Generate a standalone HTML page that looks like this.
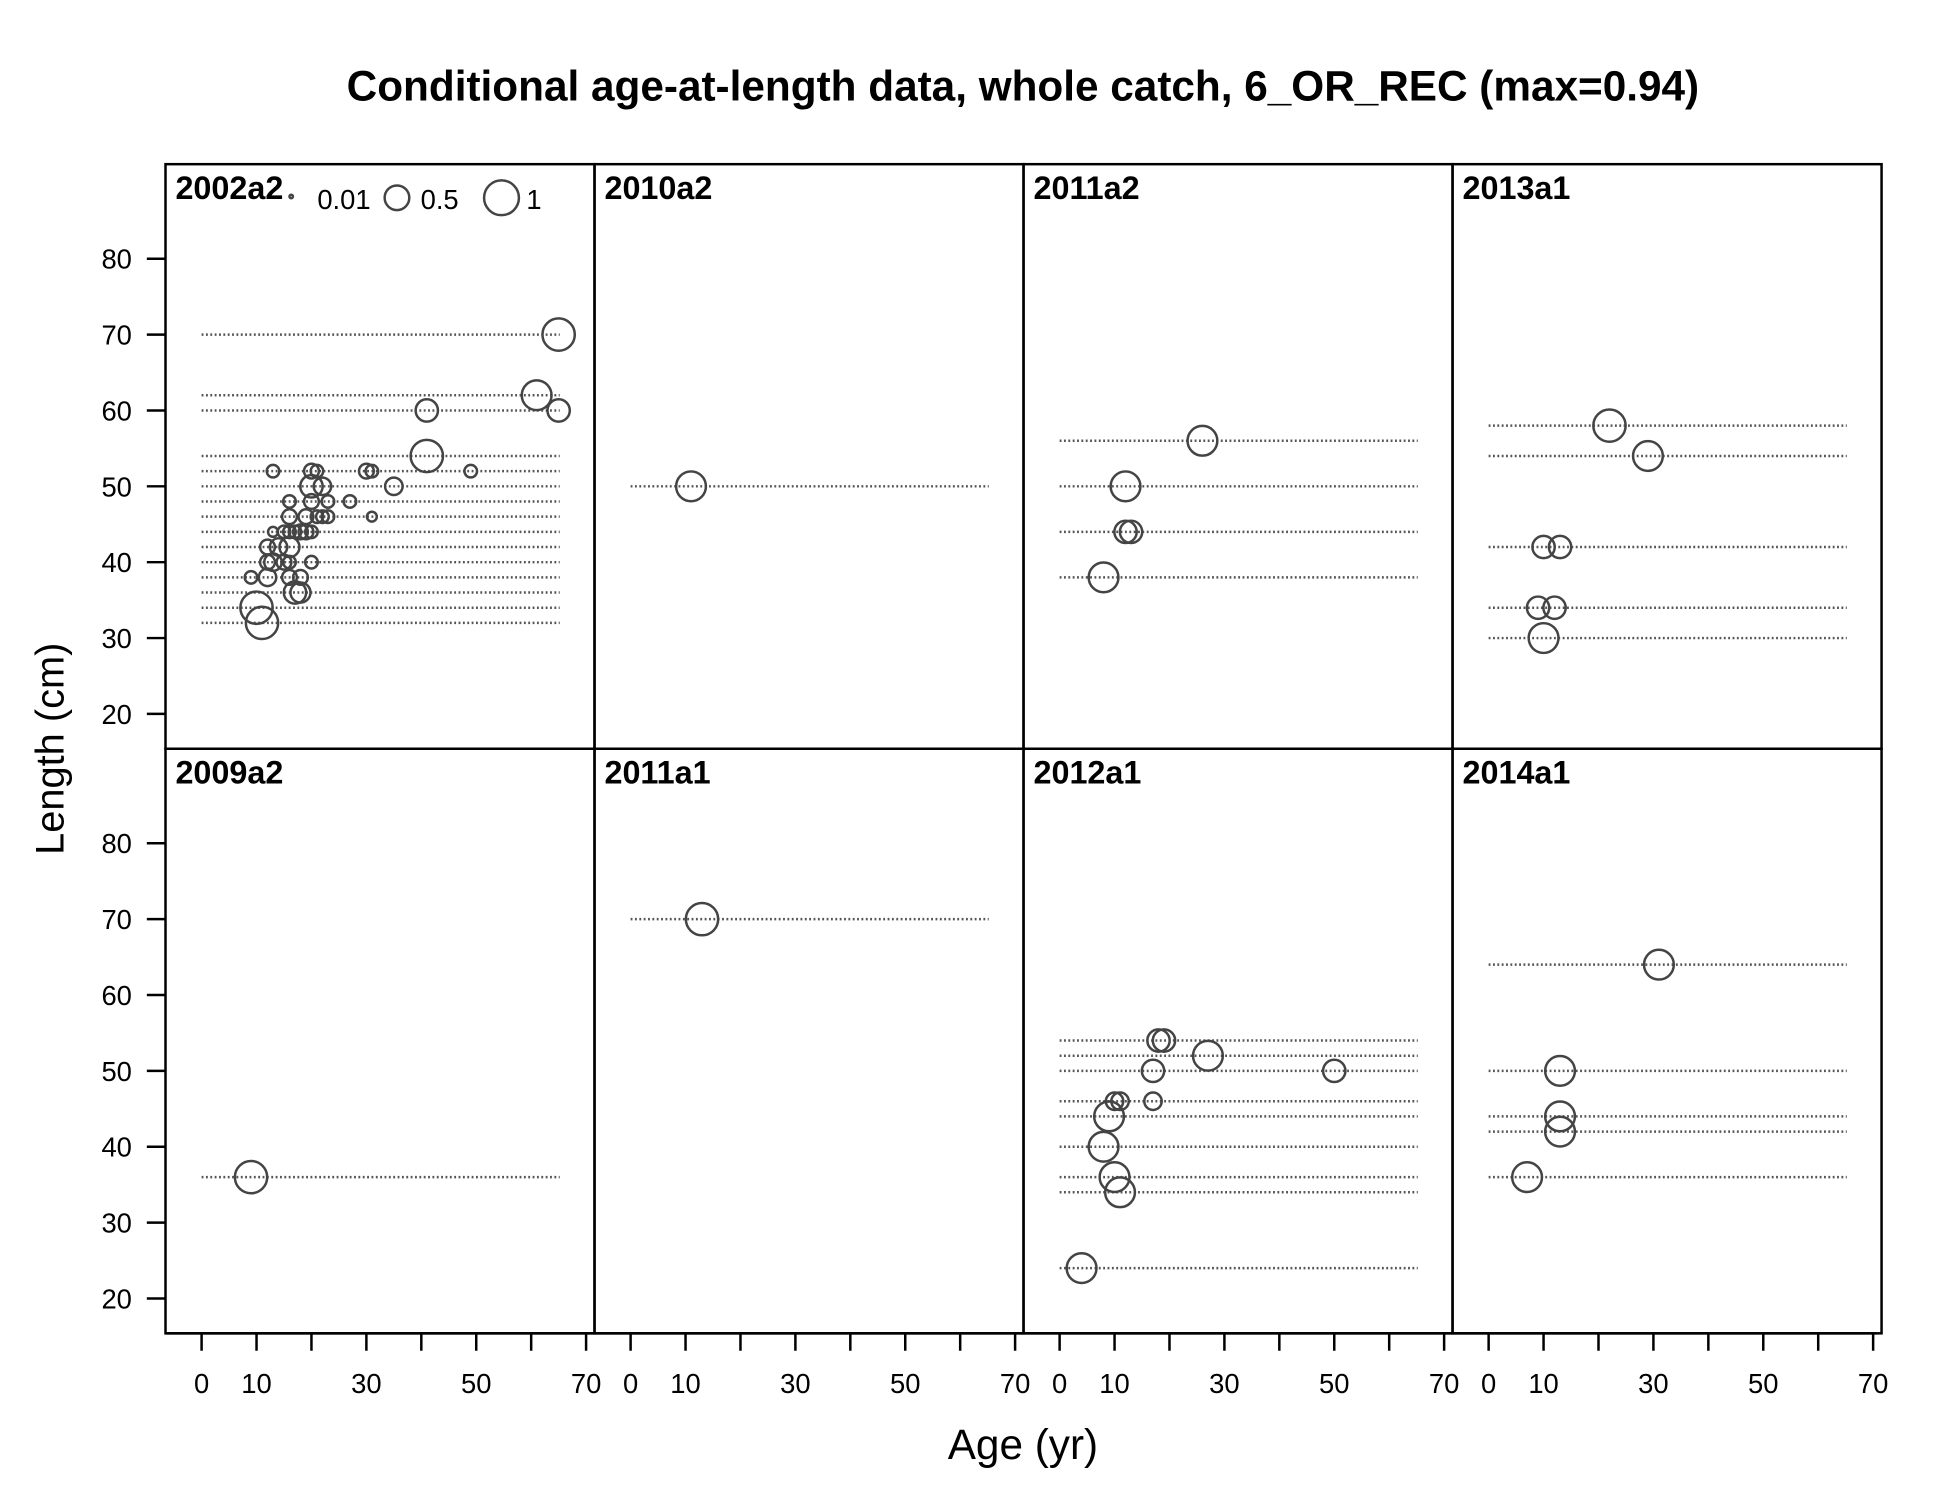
<!DOCTYPE html>
<html><head><meta charset="utf-8"><style>
html,body{margin:0;padding:0;background:#fff;}
svg{display:block;font-family:"Liberation Sans",Arial,sans-serif;}
</style></head><body>
<svg id="chart" width="1950" height="1500" viewBox="0 0 1567 1206" preserveAspectRatio="none" xmlns="http://www.w3.org/2000/svg">
<rect width="1567" height="1206" fill="#fff"/>
<text x="822" y="81" text-anchor="middle" font-size="34" font-weight="bold">Conditional age-at-length data, whole catch, 6_OR_REC (max=0.94)</text>
<text transform="translate(51,602) rotate(-90)" text-anchor="middle" font-size="32">Length (cm)</text>
<text x="822" y="1173" text-anchor="middle" font-size="34">Age (yr)</text>
<g id="plot"></g>
</svg>
<script>
const panelNames = ["2002a2","2010a2","2011a2","2013a1","2009a2","2011a1","2012a1","2014a1"];
const panelLines = [
 [32,34,36,38,40,42,44,46,48,50,52,54,60,62,70],
 [50],[38,44,50,56],[30,34,42,54,58],
 [36],[70],[24,34,36,40,44,46,50,52,54],[36,42,44,50,64]
];
const panelAges = [
 [65,61,41,65,41,13,20,21,30,31,49,20,22,35,16,20,23,27,16,19,21,22,23,31,13,15,16,17,18,19,20,12,14,16,12,13,15,16,20,9,12,16,18,17,18,10,11],
 [11],[26,12,12,13,8],[22,29,10,13,9,12,10],
 [9],[13],[4,11,10,8,9,10,11,17,17,18,19,27,50],[7,13,13,13,31]
];
const panelLens = [
 [70,62,60,60,54,52,52,52,52,52,52,50,50,50,48,48,48,48,46,46,46,46,46,46,44,44,44,44,44,44,44,42,42,42,40,40,40,40,40,38,38,38,38,36,36,34,32],
 [50],[56,50,44,44,38],[58,54,42,42,34,34,30],
 [36],[70],[24,34,36,40,44,46,46,46,50,54,54,52,50],[36,42,44,50,64]
];
const panelProps = [
 [0.86,0.73,0.41,0.41,0.86,0.13,0.18,0.13,0.18,0.13,0.13,0.41,0.25,0.25,0.13,0.18,0.13,0.13,0.18,0.18,0.13,0.13,0.13,0.08,0.08,0.13,0.13,0.13,0.18,0.18,0.13,0.18,0.25,0.33,0.18,0.25,0.18,0.13,0.13,0.13,0.25,0.18,0.18,0.41,0.33,0.86,0.86],
 [0.73],[0.73,0.73,0.41,0.41,0.73],[0.86,0.73,0.41,0.41,0.41,0.41,0.73],
 [0.86],[0.86],[0.73,0.73,0.73,0.73,0.73,0.25,0.25,0.25,0.41,0.41,0.41,0.73,0.41],[0.73,0.73,0.73,0.73,0.73]
];
const xTicks = [0,10,20,30,40,50,60,70];
const xTickLabels = ["0","10","","30","","50","","70"];
const yTicks = [20,30,40,50,60,70,80];
const lineMaxAge = 65.2;

const NS="http://www.w3.org/2000/svg";
const g=document.getElementById('plot');
const L=133,T=132,PW=344.75,PH=470;
function xs(col,a){return L+col*PW+29+a*4.414;}
function ys(row,v){return T+row*PH+76+(80-v)*6.1;}
function mk(tag,attrs,parent){const e=document.createElementNS(NS,tag);for(const k in attrs)e.setAttribute(k,attrs[k]);(parent||g).appendChild(e);return e;}
function rad(p){return 14*Math.sqrt(p);}

for(let i=0;i<8;i++){
 const col=i%4,row=Math.floor(i/4);
 const pg=mk('g',{});
 
 
 const fr=mk('rect',{x:L+col*PW,y:T+row*PH,width:PW,height:PH,fill:'none',stroke:'#000','stroke-width':2},pg);
 
 
 const lab=mk('text',{x:L+col*PW+8,y:T+row*PH+28,'font-size':26,'font-weight':'bold'},pg);
 lab.textContent=panelNames[i];
 
 
 panelLines[i].forEach(v=>{
  const ln=mk('line',{x1:xs(col,0),x2:xs(col,lineMaxAge),y1:ys(row,v),y2:ys(row,v),stroke:'#555','stroke-width':2,'stroke-dasharray':'1.5 2'},pg);
  
  
 });
 panelAges[i].forEach((a,j)=>{
  const c=mk('circle',{cx:xs(col,a),cy:ys(row,panelLens[i][j]),r:rad(panelProps[i][j]),fill:'none',stroke:'#444','stroke-width':2},pg);
  
  
 });
}
for(let row=0;row<2;row++){
 yTicks.forEach(v=>{
  const y=ys(row,v);
  const t=mk('line',{x1:118,x2:133,y1:y,y2:y,stroke:'#000','stroke-width':2});
  
  
  const tx=mk('text',{x:106,y:y+8,'text-anchor':'end','font-size':22});
  tx.textContent=v;
  
  
 });
}
for(let col=0;col<4;col++){
 xTicks.forEach((a,k)=>{
  const x=xs(col,a);
  const t=mk('line',{x1:x,x2:x,y1:1072,y2:1086,stroke:'#000','stroke-width':2});
  
  
  if(xTickLabels[k]){
   const tx=mk('text',{x:x,y:1120,'text-anchor':'middle','font-size':22});
   tx.textContent=xTickLabels[k];
   
   
  }
 });
}
const ax=mk('line',{x1:133,x2:1508,y1:1072,y2:1072,stroke:'#000','stroke-width':2});


const lg=mk('g',{});


mk('circle',{cx:234,cy:158,r:1.4,fill:'none',stroke:'#444','stroke-width':2},lg);
mk('circle',{cx:319,cy:159,r:rad(0.5),fill:'none',stroke:'#444','stroke-width':2},lg);
mk('circle',{cx:403,cy:159,r:rad(1),fill:'none',stroke:'#444','stroke-width':2},lg);
[["0.01",255],["0.5",338],["1",423]].forEach(([s,x])=>{
 const t=mk('text',{x:x,y:168,'font-size':22},lg);
 t.textContent=s;
 
 
});
</script>
</body></html>
